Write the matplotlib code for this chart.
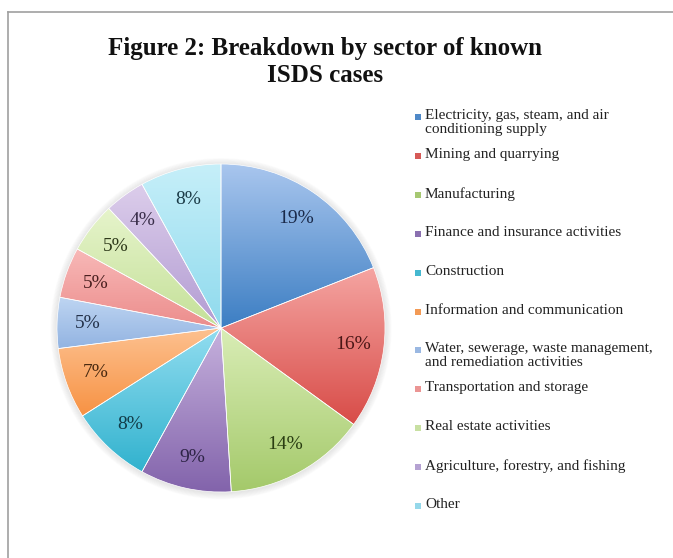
import numpy as np
import matplotlib
matplotlib.use("Agg")
import matplotlib.pyplot as plt
from matplotlib.colors import to_rgb
from matplotlib.patches import Rectangle, Circle
from matplotlib.lines import Line2D

title = "Figure 2: Breakdown by sector of known\nISDS cases"
sectors = [
    "Electricity, gas, steam, and air\nconditioning supply",
    "Mining and quarrying",
    "Manufacturing",
    "Finance and insurance activities",
    "Construction",
    "Information and communication",
    "Water, sewerage, waste management,\nand remediation activities",
    "Transportation and storage",
    "Real estate activities",
    "Agriculture, forestry, and fishing",
    "Other",
]
shares = [19, 16, 14, 9, 8, 7, 5, 5, 5, 4, 8]
light_colors = ["#a9c6ee", "#f5a5a2", "#d9edb6", "#c6b1dd", "#92ddf0", "#fdc190",
                "#bed5f2", "#f8b9b8", "#e6f4cb", "#dccdeb", "#c6eff9"]
dark_colors = ["#3c7ec3", "#d84c48", "#a4c96a", "#8263ab", "#31b2ce", "#f79243",
               "#92b3e1", "#ec8d8c", "#c4e098", "#b29cd2", "#8fdaed"]
marker_colors = ["#4f89c8", "#d65a57", "#a6c872", "#8a70b0", "#45b8d0", "#f39a55",
                 "#9ab8e2", "#eb9594", "#c8e0a2", "#b5a2d2", "#95d8ea"]
label_colors = ["#1a2a4a", "#4a1616", "#2a3d12", "#2e2446", "#123c48", "#4a2a10",
                "#24324a", "#4a2020", "#2e3a1a", "#3a2e4a", "#1c3c48"]

FONT = "Liberation Serif"
W, H = 673, 558
fig = plt.figure(figsize=(W / 100, H / 100), dpi=100)
fig.patch.set_facecolor("white")

# frame lines (top and left)
fig.add_artist(Line2D([8 / W, 1], [1 - 12 / H, 1 - 12 / H], color="#a0a0a0", lw=1.2,
                      transform=fig.transFigure))
fig.add_artist(Line2D([8 / W, 8 / W], [0, 1 - 12 / H], color="#a0a0a0", lw=1.2,
                      transform=fig.transFigure))

cx, cy, r = 221, 328, 164
pad = 1.06
ax = fig.add_axes([(cx - r * pad) / W, (H - cy - r * pad) / H, 2 * r * pad / W, 2 * r * pad / H])
ax.axis("off")

# soft shadow
for k in range(8):
    ax.add_patch(Circle((0, -0.004), 1.0 + 0.005 * (k + 1), facecolor="#9a9a9a",
                        edgecolor="none", alpha=0.03, zorder=0.5))

wedges, texts, autotexts = ax.pie(
    shares, startangle=90, counterclock=False, radius=1,
    colors=dark_colors, autopct="%1.0f%%", pctdistance=0.81,
    wedgeprops=dict(edgecolor="white", linewidth=0.5),
    textprops=dict(fontfamily=FONT, fontsize=14),
)
ax.set_xlim(-pad, pad)
ax.set_ylim(-pad, pad)

for w, lc, dc in zip(wedges, light_colors, dark_colors):
    v = w.get_path().vertices
    x0, x1 = v[:, 0].min(), v[:, 0].max()
    y0, y1 = v[:, 1].min(), v[:, 1].max()
    t = np.linspace(0, 1, 256)[:, None]
    c0 = np.array(to_rgb(dc))
    c1 = np.array(to_rgb(lc))
    img = c0[None, None, :] * (1 - t[:, :, None]) + c1[None, None, :] * t[:, :, None]
    img = np.repeat(img, 2, axis=1)
    im = ax.imshow(img, extent=[x0, x1, y0, y1], origin="lower", aspect="auto",
                   interpolation="bilinear", zorder=1.5)
    im.set_clip_path(w)

for w in wedges:
    w.set_facecolor("none")
    w.set_zorder(1.6)

for t, c in zip(autotexts, label_colors):
    t.set_color(c)
    t.set_zorder(3)

fig.text(325 / W, 1 - 37 / H, title, ha="center", va="top", fontfamily=FONT,
         fontweight="bold", fontsize=18, linespacing=1.22, color="#111111")

# legend
top0 = 109
step = 38.9
for i, (lab, mc) in enumerate(zip(sectors, marker_colors)):
    ytop = top0 + i * step
    fig.add_artist(Rectangle((415 / W, 1 - (ytop + 11) / H), 6 / W, 6 / H,
                             facecolor=mc, edgecolor="none", transform=fig.transFigure))
    fig.text(425 / W, 1 - ytop / H, lab, ha="left", va="top", fontfamily=FONT,
             fontsize=11, linespacing=1.1, color="#222222")

fig.savefig("out.png", dpi=100, facecolor="white")
